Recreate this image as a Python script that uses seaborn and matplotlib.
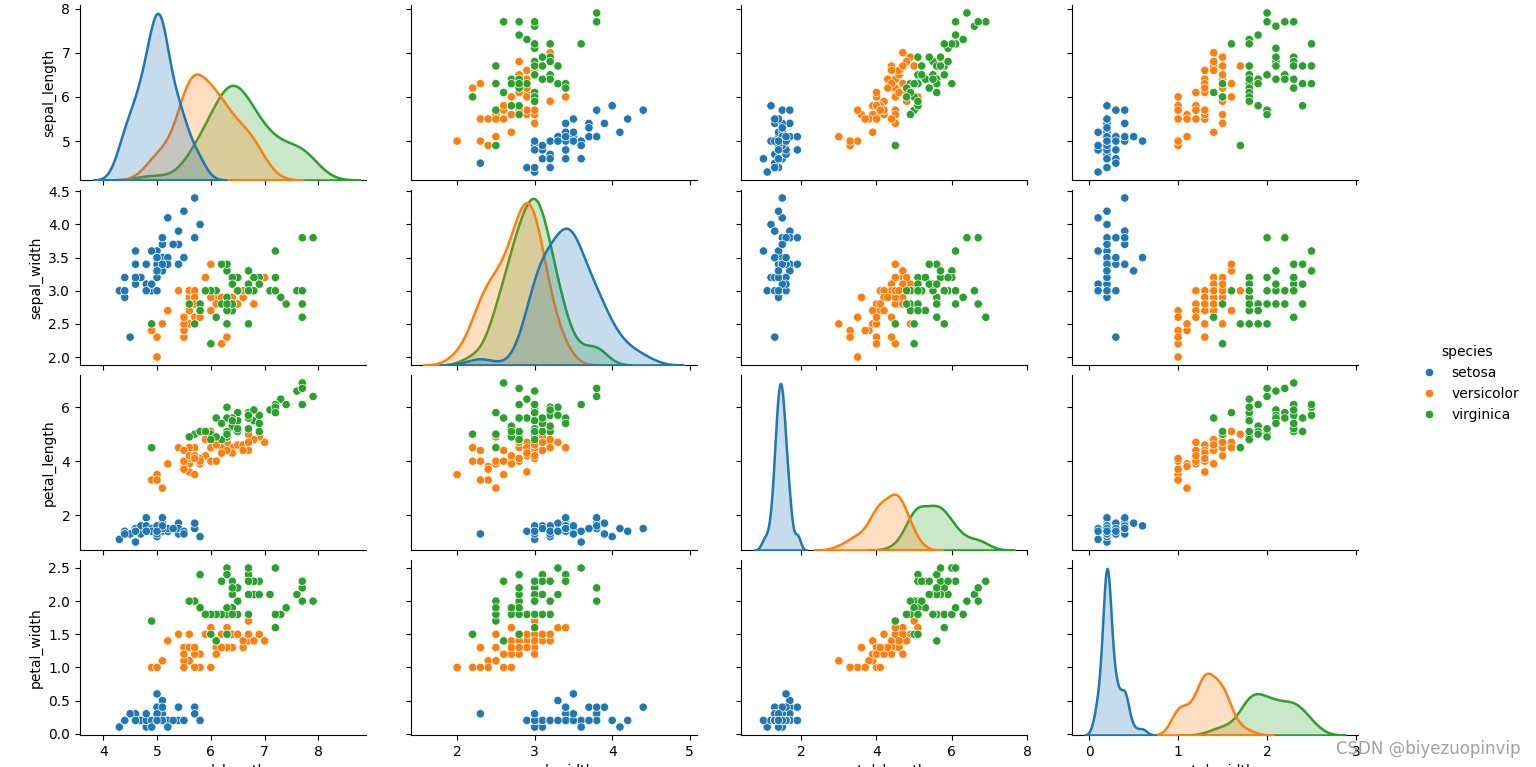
import pandas as pd
import seaborn as sns
import matplotlib
matplotlib.use('Agg')
import matplotlib.pyplot as plt

# iris 数据 (setosa / versicolor / virginica 各 50 条)
sepal_length = [
    5.1, 4.9, 4.7, 4.6, 5.0, 5.4, 4.6, 5.0, 4.4, 4.9, 5.4, 4.8, 4.8, 4.3, 5.8, 5.7, 5.4, 5.1, 5.7, 5.1,
    5.4, 5.1, 4.6, 5.1, 4.8, 5.0, 5.0, 5.2, 5.2, 4.7, 4.8, 5.4, 5.2, 5.5, 4.9, 5.0, 5.5, 4.9, 4.4, 5.1,
    5.0, 4.5, 4.4, 5.0, 5.1, 4.8, 5.1, 4.6, 5.3, 5.0,
    7.0, 6.4, 6.9, 5.5, 6.5, 5.7, 6.3, 4.9, 6.6, 5.2, 5.0, 5.9, 6.0, 6.1, 5.6, 6.7, 5.6, 5.8, 6.2, 5.6,
    5.9, 6.1, 6.3, 6.1, 6.4, 6.6, 6.8, 6.7, 6.0, 5.7, 5.5, 5.5, 5.8, 6.0, 5.4, 6.0, 6.7, 6.3, 5.6, 5.5,
    5.5, 6.1, 5.8, 5.0, 5.6, 5.7, 5.7, 6.2, 5.1, 5.7,
    6.3, 5.8, 7.1, 6.3, 6.5, 7.6, 4.9, 7.3, 6.7, 7.2, 6.5, 6.4, 6.8, 5.7, 5.8, 6.4, 6.5, 7.7, 7.7, 6.0,
    6.9, 5.6, 7.7, 6.3, 6.7, 7.2, 6.2, 6.1, 6.4, 7.2, 7.4, 7.9, 6.4, 6.3, 6.1, 7.7, 6.3, 6.4, 6.0, 6.9,
    6.7, 6.9, 5.8, 6.8, 6.7, 6.7, 6.3, 6.5, 6.2, 5.9,
]
sepal_width = [
    3.5, 3.0, 3.2, 3.1, 3.6, 3.9, 3.4, 3.4, 2.9, 3.1, 3.7, 3.4, 3.0, 3.0, 4.0, 4.4, 3.9, 3.5, 3.8, 3.8,
    3.4, 3.7, 3.6, 3.3, 3.4, 3.0, 3.4, 3.5, 3.4, 3.2, 3.1, 3.4, 4.1, 4.2, 3.1, 3.2, 3.5, 3.6, 3.0, 3.4,
    3.5, 2.3, 3.2, 3.5, 3.8, 3.0, 3.8, 3.2, 3.7, 3.3,
    3.2, 3.2, 3.1, 2.3, 2.8, 2.8, 3.3, 2.4, 2.9, 2.7, 2.0, 3.0, 2.2, 2.9, 2.9, 3.1, 3.0, 2.7, 2.2, 2.5,
    3.2, 2.8, 2.5, 2.8, 2.9, 3.0, 2.8, 3.0, 2.9, 2.6, 2.4, 2.4, 2.7, 2.7, 3.0, 3.4, 3.1, 2.3, 3.0, 2.5,
    2.6, 3.0, 2.6, 2.3, 2.7, 3.0, 2.9, 2.9, 2.5, 2.8,
    3.3, 2.7, 3.0, 2.9, 3.0, 3.0, 2.5, 2.9, 2.5, 3.6, 3.2, 2.7, 3.0, 2.5, 2.8, 3.2, 3.0, 3.8, 2.6, 2.2,
    3.2, 2.8, 2.8, 2.7, 3.3, 3.2, 2.8, 3.0, 2.8, 3.0, 2.8, 3.8, 2.8, 2.8, 2.6, 3.0, 3.4, 3.1, 3.0, 3.1,
    3.1, 3.1, 2.7, 3.2, 3.3, 3.0, 2.5, 3.0, 3.4, 3.0,
]
petal_length = [
    1.4, 1.4, 1.3, 1.5, 1.4, 1.7, 1.4, 1.5, 1.4, 1.5, 1.5, 1.6, 1.4, 1.1, 1.2, 1.5, 1.3, 1.4, 1.7, 1.5,
    1.7, 1.5, 1.0, 1.7, 1.9, 1.6, 1.6, 1.5, 1.4, 1.6, 1.6, 1.5, 1.5, 1.4, 1.5, 1.2, 1.3, 1.4, 1.3, 1.5,
    1.3, 1.3, 1.3, 1.6, 1.9, 1.4, 1.6, 1.4, 1.5, 1.4,
    4.7, 4.5, 4.9, 4.0, 4.6, 4.5, 4.7, 3.3, 4.6, 3.9, 3.5, 4.2, 4.0, 4.7, 3.6, 4.4, 4.5, 4.1, 4.5, 3.9,
    4.8, 4.0, 4.9, 4.7, 4.3, 4.4, 4.8, 5.0, 4.5, 3.5, 3.8, 3.7, 3.9, 5.1, 4.5, 4.5, 4.7, 4.4, 4.1, 4.0,
    4.4, 4.6, 4.0, 3.3, 4.2, 4.2, 4.2, 4.3, 3.0, 4.1,
    6.0, 5.1, 5.9, 5.6, 5.8, 6.6, 4.5, 6.3, 5.8, 6.1, 5.1, 5.3, 5.5, 5.0, 5.1, 5.3, 5.5, 6.7, 6.9, 5.0,
    5.7, 4.9, 6.7, 4.9, 5.7, 6.0, 4.8, 4.9, 5.6, 5.8, 6.1, 6.4, 5.6, 5.1, 5.6, 6.1, 5.6, 5.5, 4.8, 5.4,
    5.6, 5.1, 5.1, 5.9, 5.7, 5.2, 5.0, 5.2, 5.4, 5.1,
]
petal_width = [
    0.2, 0.2, 0.2, 0.2, 0.2, 0.4, 0.3, 0.2, 0.2, 0.1, 0.2, 0.2, 0.1, 0.1, 0.2, 0.4, 0.4, 0.3, 0.3, 0.3,
    0.2, 0.4, 0.2, 0.5, 0.2, 0.2, 0.4, 0.2, 0.2, 0.2, 0.2, 0.4, 0.1, 0.2, 0.2, 0.2, 0.2, 0.1, 0.2, 0.2,
    0.3, 0.3, 0.2, 0.6, 0.4, 0.3, 0.2, 0.2, 0.2, 0.2,
    1.4, 1.5, 1.5, 1.3, 1.5, 1.3, 1.6, 1.0, 1.3, 1.4, 1.0, 1.5, 1.0, 1.4, 1.3, 1.4, 1.5, 1.0, 1.5, 1.1,
    1.8, 1.3, 1.5, 1.2, 1.3, 1.4, 1.4, 1.7, 1.5, 1.0, 1.1, 1.0, 1.2, 1.6, 1.5, 1.6, 1.5, 1.3, 1.3, 1.3,
    1.2, 1.4, 1.2, 1.0, 1.3, 1.2, 1.3, 1.3, 1.1, 1.3,
    2.5, 1.9, 2.1, 1.8, 2.2, 2.1, 1.7, 1.8, 1.8, 2.5, 2.0, 1.9, 2.1, 2.0, 2.4, 2.3, 1.8, 2.2, 2.3, 1.5,
    2.3, 2.0, 2.0, 1.8, 2.1, 1.8, 1.8, 1.8, 2.1, 1.6, 1.9, 2.0, 2.2, 1.5, 1.4, 2.3, 2.4, 1.8, 1.8, 2.1,
    2.4, 2.3, 1.9, 2.3, 2.5, 2.3, 1.9, 2.0, 2.3, 1.8,
]
species_names = ['setosa', 'versicolor', 'virginica']
species = [s for s in species_names for _ in range(50)]

df = pd.DataFrame({
    'sepal_length': sepal_length,
    'sepal_width': sepal_width,
    'petal_length': petal_length,
    'petal_width': petal_width,
    'species': species,
})

g = sns.pairplot(df, hue='species', height=2.0, aspect=1.6,
                 diag_kws={'linewidth': 1.8})
g.figure.set_size_inches(15.36, 7.67)

W, H = 1536, 767
g.figure.subplots_adjust(left=80 / W, right=1358 / W, top=1 - 5 / H, bottom=1 - 735 / H,
                         wspace=45 / 286, hspace=10 / 174)
# 第一列 x 轴右端不到 9
g.axes[0, 0].set_xlim(right=8.88)
sns.move_legend(g, 'center right', bbox_to_anchor=(0.997, 0.5), frameon=False,
                handletextpad=0.6)

g.figure.text(0.99, 0.012, 'CSDN @biyezuopinvip', ha='right', va='bottom',
              fontsize=12, color='#888888', alpha=0.8)

g.figure.savefig('out.png', dpi=100)
